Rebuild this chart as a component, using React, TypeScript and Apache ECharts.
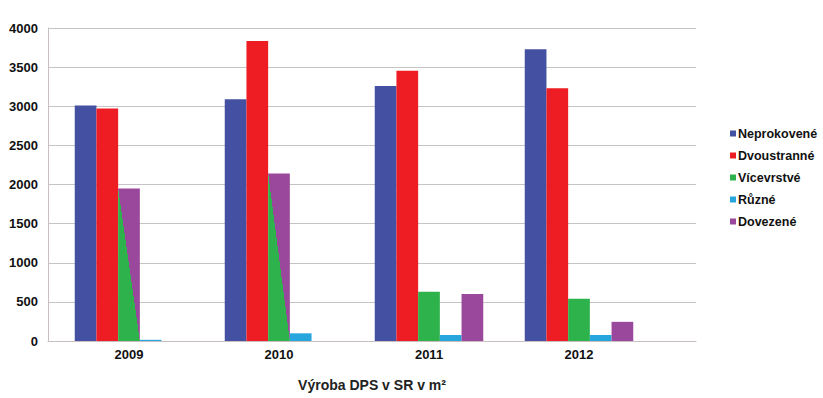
import React, { useEffect, useRef } from "react";
import * as echarts from "echarts";

const years = ["2009", "2010", "2011", "2012"];
const neprokovene = [3010, 3090, 3260, 3730];
const dvoustranne = [2970, 3835, 3455, 3230];
const vicevrstve = [1950, 2140, 630, 540];
const ruzne = [15, 98, 77, 77];
const dovezene: (number | null)[] = [null, null, 600, 245];
const yTicks = [0, 500, 1000, 1500, 2000, 2500, 3000, 3500, 4000];

const COLORS = {
  blue: "#4450A2",
  red: "#EE1D23",
  green: "#2EB24B",
  cyan: "#27A6DE",
  purple: "#9A489C",
};

export default function App() {
  const ref = useRef<HTMLDivElement>(null);
  useEffect(() => {
    if (!ref.current) return;
    const chart = echarts.init(ref.current, null, { renderer: "svg" });
    const toPairs = (arr: (number | null)[]) =>
      arr.map((v, i) => [i, v] as [number, number | null]);

    // In 2009 and 2010 the Vícevrstvé bar is split diagonally with the Dovezené colour
    const diag = new echarts.graphic.LinearGradient(0, 1, 1, 0, [
      { offset: 0, color: COLORS.green },
      { offset: 0.5, color: COLORS.green },
      { offset: 0.5, color: COLORS.purple },
      { offset: 1, color: COLORS.purple },
    ]);
    const greenData = vicevrstve.map((v, i) =>
      dovezene[i] == null
        ? { value: [i, v], itemStyle: { color: diag } }
        : { value: [i, v] }
    );

    const font = "'Liberation Sans', Arial, sans-serif";
    const barW = 21.7;
    const mk = (name: string, data: any, color: string) => ({
      name,
      type: "bar",
      data,
      barWidth: barW,
      barGap: "0%",
      itemStyle: { color },
    });

    chart.setOption({
      animation: false,
      textStyle: { fontFamily: font },
      grid: { left: 48, right: 127, top: 28, bottom: 57, containLabel: false },
      legend: {
        orient: "vertical",
        left: 725,
        top: 122,
        itemWidth: 6,
        itemHeight: 6,
        itemGap: 9,
        icon: "rect",
        textStyle: {
          fontFamily: font,
          fontWeight: "bold",
          fontSize: 12.5,
          color: "#111",
          padding: [0, 0, 0, -3],
        },
        data: ["Neprokovené", "Dvoustranné", "Vícevrstvé", "Různé", "Dovezené"],
      },
      xAxis: {
        type: "value",
        min: -0.54,
        max: 3.78,
        name: "Výroba DPS v SR v m²",
        nameLocation: "middle",
        nameGap: 37,
        nameTextStyle: {
          fontFamily: font,
          fontWeight: "bold",
          fontSize: 14,
          color: "#222",
        },
        axisLine: { show: true, onZero: false, lineStyle: { color: "#c9bfc1", width: 1 } },
        axisTick: { show: false },
        splitLine: { show: false },
        axisLabel: {
          customValues: [0, 1, 2, 3],
          formatter: (v: number) => years[Math.round(v)] ?? "",
          fontFamily: font,
          fontWeight: "bold",
          fontSize: 13,
          color: "#111",
          margin: 7,
        },
      },
      yAxis: {
        type: "value",
        min: 0,
        max: 4000,
        interval: 500,
        axisLine: { show: true, onZero: false, lineStyle: { color: "#c9bfc1", width: 1 } },
        axisTick: { show: false },
        splitLine: { lineStyle: { color: "#c4c4c4", width: 1 } },
        axisLabel: {
          fontFamily: font,
          fontWeight: "bold",
          fontSize: 13,
          color: "#111",
          margin: 10,
          formatter: (v: number) => (yTicks.includes(v) ? String(v) : ""),
        },
      },
      series: [
        mk("Neprokovené", toPairs(neprokovene), COLORS.blue),
        mk("Dvoustranné", toPairs(dvoustranne), COLORS.red),
        mk("Vícevrstvé", greenData, COLORS.green),
        mk("Různé", toPairs(ruzne), COLORS.cyan),
        mk("Dovezené", toPairs(dovezene), COLORS.purple),
      ],
    });
    return () => chart.dispose();
  }, []);
  return (
    <div
      ref={ref}
      style={{ position: "fixed", left: 0, top: 0, width: 823, height: 398, background: "#fff" }}
    />
  );
}
